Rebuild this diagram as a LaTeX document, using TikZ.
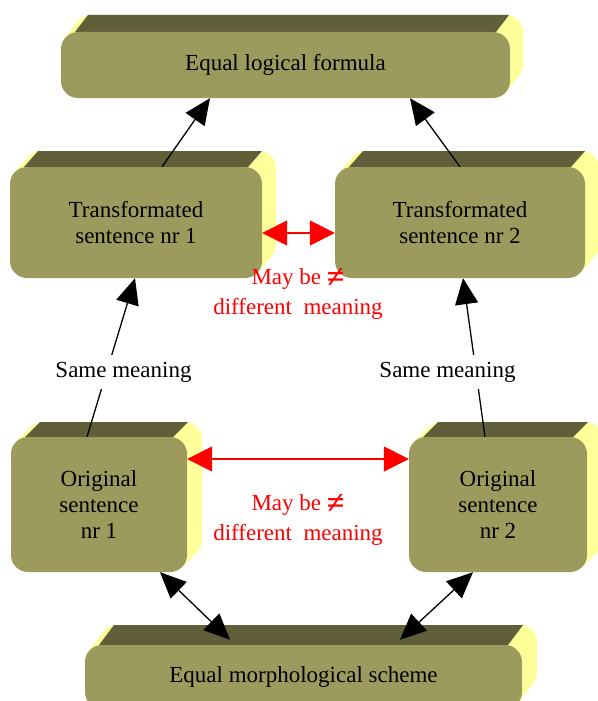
\documentclass[tikz,border=0pt]{standalone}
\usepackage{fontspec}
\setmainfont{Liberation Serif}
\usetikzlibrary{arrows.meta,calc}
\definecolor{facecol}{HTML}{9C9A5C}
\definecolor{darkcol}{HTML}{615F39}
\definecolor{sidecol}{HTML}{FFFF99}
\definecolor{redcol}{HTML}{FF0000}
\pgfdeclarehorizontalshading{topface}{100bp}{color(0bp)=(sidecol!90!darkcol); color(10bp)=(darkcol); color(90bp)=(darkcol); color(100bp)=(sidecol!90!darkcol)}
\tikzset{
  face/.style={fill=facecol, draw=none, rounded corners=17pt, align=center, inner sep=0pt,
    font=\fontsize{23}{26}\selectfont},
  blk/.style={draw=black, line width=1.3pt, -{Triangle[length=26pt,width=23pt]}},
  blkd/.style={draw=black, line width=1.3pt, {Triangle[length=26pt,width=23pt]}-{Triangle[length=26pt,width=23pt]}},
  redar/.style={draw=redcol, line width=1.6pt, {Triangle[length=25pt,width=25pt]}-{Triangle[length=25pt,width=25pt]}},
  lbl/.style={fill=white, inner xsep=2pt, inner ysep=7pt, font=\fontsize{23}{26}\selectfont},
  redlbl/.style={text=redcol, align=center, inner sep=0pt, font=\fontsize{23}{30}\selectfont}
}
\newcommand\neqsym{\raisebox{-2.5pt}{\fontsize{32}{30}\selectfont\bfseries ≠}}
% #1 name, #2 x1, #3 y1, #4 x2, #5 y2, #6 dx, #7 dy (up), #8 text
\newcommand\olbox[8]{%
  \foreach \k in {16,15,...,1}{%
    \fill[sidecol, rounded corners=17pt] ({#2+#6*\k/16},{#3-#7*\k/16}) rectangle ({#4+#6*\k/16},{#5-#7*\k/16});
  }%
  \path[shading=topface] ({#2+14},{#3}) -- ({#2+14+#6},{#3-#7}) -- ({#4-14+#6},{#3-#7}) -- ({#4-14},{#3}) -- cycle;
  \node[face, minimum width={(#4-#2)*1pt}, minimum height={(#5-#3)*1pt}] (#1) at ({(#2+#4)/2},{(#3+#5)/2}) {#8};
}
\begin{document}
\begin{tikzpicture}[x=1pt,y=-1pt]
\useasboundingbox (0,0) rectangle (597,701);
\fill[white] (0,0) rectangle (597,701);

\olbox{top}{61}{32}{510}{98}{13}{17}{Equal logical formula}
\olbox{t1}{10}{167}{262}{278}{14}{16}{Transformated\\sentence nr 1}
\olbox{t2}{335}{167}{585}{278}{14}{16}{Transformated\\sentence nr 2}
\olbox{o1}{11}{437}{187}{572}{15}{15}{Original\\sentence\\nr 1}
\olbox{o2}{409}{437}{587}{572}{15}{15}{Original\\sentence\\nr 2}
\olbox{bot}{85}{645}{522}{709}{15}{20}{Equal morphological scheme}

% upward arrows to top
\draw[blk] ([xshift=26pt]t1.north) -- ([xshift=-75.5pt]top.south);
\draw[blk] (t2.north) -- ([xshift=124.5pt]top.south);

% red arrows
\draw[redar] ([yshift=-10.5pt]t1.east) -- ([yshift=-10.5pt]t2.west);
\draw[redar] ([yshift=45.5pt]o1.east) -- ([yshift=45.5pt]o2.west);

% same meaning arrows
\draw[blk] ([xshift=-12pt]o1.north) -- ([xshift=-1pt]t1.south);
\draw[blk] ([xshift=-13pt]o2.north) -- ([xshift=3pt]t2.south);
\node[lbl, anchor=base] (s1) at (123.5,377) {Same meaning};
\node[lbl, anchor=base] (s2) at (447.5,377) {Same meaning};

% bottom arrows
\draw[blkd] ([xshift=61pt]o1.south) -- ([xshift=-73.5pt,yshift=5pt]bot.north);
\draw[blkd] ([xshift=-25pt]o2.south) -- ([xshift=96.5pt,yshift=5pt]bot.north);

% red labels
\begin{scope}
  \clip (150,240) rectangle (450,318);
  \node[redlbl] (m1) at (298,294) {May be \neqsym\\different\ \ meaning};
\end{scope}
\begin{scope}
  \clip (150,470) rectangle (450,544);
  \node[redlbl] (m2) at (298,520) {May be \neqsym\\different\ \ meaning};
\end{scope}
\end{tikzpicture}
\end{document}
